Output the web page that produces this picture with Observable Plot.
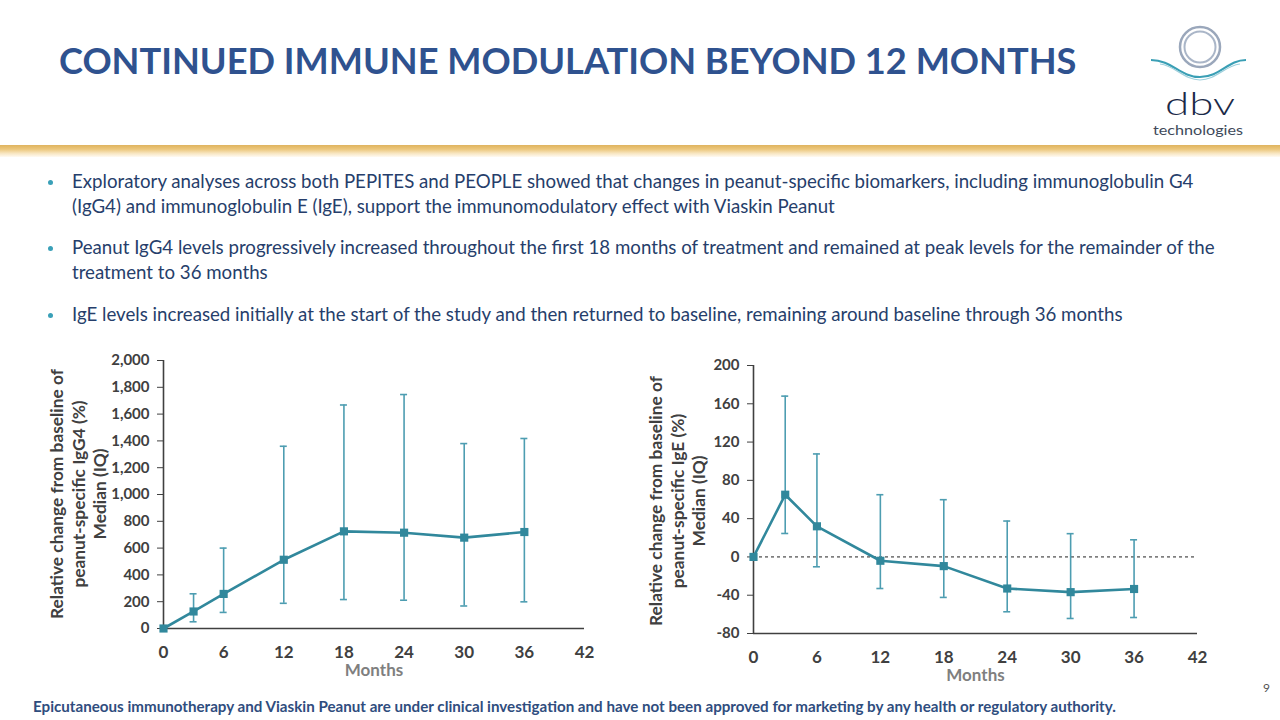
<!DOCTYPE html>
<html><head><meta charset="utf-8">
<script src="https://cdn.jsdelivr.net/npm/d3@7"></script>
<script src="https://cdn.jsdelivr.net/npm/@observablehq/plot@0.6"></script>
<style>
html,body{margin:0;padding:0}
body{width:1280px;height:720px;overflow:hidden;background:#fff;font-family:Lato,"Open Sans",sans-serif;position:relative}
.abs{position:absolute;white-space:nowrap}
#title{left:59px;top:36px;font-weight:700;font-size:35px;line-height:48px;color:#2f528f}
#band{left:0;top:145px;width:1280px;height:12px;background:linear-gradient(#dfb35e,#ecc77c 35%,#f8e6c2 70%,#fffaf2)}
.bl{left:72px;font-size:20px;color:#263e6b;line-height:25px}
.dot{position:absolute;width:5px;height:5px;border-radius:50%;background:#3aa0b8}
.ytitle{position:absolute;font-weight:700;font-size:17px;line-height:21.5px;color:#404040;text-align:center;white-space:nowrap;transform:translate(-50%,-50%) rotate(-90deg)}
#footer{left:33px;top:696px;font-weight:700;font-size:16px;line-height:20px;color:#2f4d7e}
#page{left:1263px;top:680px;font-size:12px;color:#555}
.chart{position:absolute}
.chart svg{overflow:visible}
</style></head>
<body>
<div id="title" class="abs">CONTINUED IMMUNE MODULATION BEYOND 12 MONTHS</div>
<svg class="abs" style="left:1140px;top:15px" width="120" height="125" viewBox="1140 15 120 125">
  <circle cx="1200" cy="47" r="20" fill="none" stroke="#9aa7bb" stroke-width="2.5"/>
  <circle cx="1200" cy="47" r="15.5" fill="none" stroke="#aab6c8" stroke-width="2"/>
  <path d="M1151,60 C1172,60 1180,77 1200,77 C1220,77 1228,60 1246,60" fill="none" stroke="#3a9fb5" stroke-width="2.2"/>
  <path d="M1160,64 C1176,66 1184,80 1200,80 C1216,80 1224,66 1240,64" fill="none" stroke="#9fd0dc" stroke-width="1.2"/>
  <text x="1200" y="115" text-anchor="middle" font-family="Lato" font-weight="300" font-size="31" fill="#1b2a48" textLength="70" lengthAdjust="spacingAndGlyphs">dbv</text>
  <text x="1198" y="135" text-anchor="middle" font-family="Lato" font-weight="400" font-size="13.5" fill="#404a5a" textLength="90" lengthAdjust="spacingAndGlyphs">technologies</text>
</svg>
<div id="band" class="abs"></div>

<div class="dot" style="left:48px;top:180px"></div>
<div class="bl abs" id="b1" style="top:169px">Exploratory analyses across both PEPITES and PEOPLE showed that changes in peanut-specific biomarkers, including immunoglobulin G4</div>
<div class="bl abs" style="top:194px">(IgG4) and immunoglobulin E (IgE), support the immunomodulatory effect with Viaskin Peanut</div>
<div class="dot" style="left:48px;top:246px"></div>
<div class="bl abs" style="top:235px">Peanut IgG4 levels progressively increased throughout the first 18 months of treatment and remained at peak levels for the remainder of the</div>
<div class="bl abs" style="top:260px">treatment to 36 months</div>
<div class="dot" style="left:48px;top:313px"></div>
<div class="bl abs" style="top:302px">IgE levels increased initially at the start of the study and then returned to baseline, remaining around baseline through 36 months</div>

<div id="chartL" class="chart" style="left:0px;top:340px"></div>
<div id="chartR" class="chart" style="left:620px;top:345px"></div>
<div class="ytitle" id="ytL" style="left:78px;top:494px">Relative change from baseline of<br>peanut-specific IgG4 (%)<br>Median (IQ)</div>
<div class="ytitle" id="ytR" style="left:677px;top:501px">Relative change from baseline of<br>peanut-specific IgE (%)<br>Median (IQ)</div>

<div id="footer" class="abs">Epicutaneous immunotherapy and Viaskin Peanut are under clinical investigation and have not been approved for marketing by any health or regulatory authority.</div>
<div id="page" class="abs">9</div>

<script>
// ---- data ----
const months = [0, 3, 6, 12, 18, 24, 30, 36];
const monthTicks = [0, 6, 12, 18, 24, 30, 36, 42];

const igg4Median = [0, 127, 258, 513, 725, 715, 678, 720];
const igg4Q1     = [null, 50, 120, 188, 216, 211, 168, 199];
const igg4Q3     = [null, 259, 600, 1360, 1668, 1746, 1380, 1418];
const igg4Ticks  = [0, 200, 400, 600, 800, 1000, 1200, 1400, 1600, 1800, 2000];

const igeMedian = [0, 65, 32, -4, -9.6, -33, -36.8, -33.5];
const igeQ1     = [null, 24.5, -10.3, -33, -42.3, -57.3, -64.3, -63.3];
const igeQ3     = [null, 168, 107.6, 65, 59.8, 37.5, 24.3, 17.9];
const igeTicks  = [-80, -40, 0, 40, 80, 120, 160, 200];

const lineColor = "#31889c";
const errColor = "#4d9db1";
const axisColor = "#404040";
const fmt = d => d.toLocaleString("en-US");

function rows(med, q1, q3) {
  return months.map((m, i) => ({month: m, median: med[i], q1: q1[i], q3: q3[i]}));
}

function chart({data, yDomain, yTicks, width, marginLeft, dashedZero}) {
  const marks = [
    Plot.axisX({ticks: monthTicks, tickSize: 0, tickPadding: 17, fontSize: 17, fontWeight: 700, label: null, fill: axisColor}),
    Plot.axisY({ticks: yTicks, tickSize: 6, tickPadding: 8, fontSize: 15, fontWeight: 700, tickFormat: fmt, label: null, stroke: axisColor, fill: axisColor}),
    Plot.ruleX([0], {stroke: axisColor, strokeWidth: 1.6}),
    Plot.ruleY([yDomain[0]], {stroke: axisColor, strokeWidth: 1.6}),
  ];
  if (dashedZero) marks.push(Plot.ruleY([0], {stroke: "#222", strokeWidth: 1, strokeDasharray: "3,3"}));
  marks.push(
    Plot.ruleX(data, {x: "month", y1: "q1", y2: "q3", stroke: errColor, strokeWidth: 1.6}),
    Plot.ruleY(data, {y: "q1", x1: "month", x2: "month", insetLeft: -3.5, insetRight: -3.5, stroke: errColor, strokeWidth: 1.6}),
    Plot.ruleY(data, {y: "q3", x1: "month", x2: "month", insetLeft: -3.5, insetRight: -3.5, stroke: errColor, strokeWidth: 1.6}),
    Plot.line(data, {x: "month", y: "median", stroke: lineColor, strokeWidth: 2.6}),
    Plot.dot(data, {x: "month", y: "median", symbol: "square", r: 4.6, fill: lineColor, stroke: "none"}),
    Plot.text(["Months"], {frameAnchor: "bottom", lineAnchor: "middle", dy: 42, fontSize: 17, fontWeight: 700, fill: "#7f7f7f"})
  );
  return Plot.plot({
    width, height: 348, marginLeft, marginRight: 30, marginTop: 20, marginBottom: 60,
    style: {fontFamily: "Lato, sans-serif", background: "transparent", color: axisColor, overflow: "visible"},
    x: {domain: [0, 42]},
    y: {domain: yDomain},
    marks
  });
}

document.getElementById("chartL").append(chart({
  data: rows(igg4Median, igg4Q1, igg4Q3), yDomain: [0, 2000], yTicks: igg4Ticks,
  width: 163 + 421 + 30, marginLeft: 163, dashedZero: false
}));
document.getElementById("chartR").append(chart({
  data: rows(igeMedian, igeQ1, igeQ3), yDomain: [-80, 200], yTicks: igeTicks,
  width: 133 + 444 + 30, marginLeft: 133, dashedZero: true
}));

// fit text widths to the reference
function fit(el, target) {
  const fs = parseFloat(getComputedStyle(el).fontSize);
  const w = el.getBoundingClientRect().width;
  const nfs = fs * target / w;
  el.style.fontSize = nfs + "px";
  return nfs;
}
fit(document.getElementById("title"), 1018);
const bfs = fit(document.getElementById("b1"), 1122);
document.querySelectorAll(".bl").forEach(e => e.style.fontSize = bfs + "px");
fit(document.getElementById("footer"), 1084);
for (const id of ["ytL", "ytR"]) {
  const el = document.getElementById(id);
  const span = document.createElement("span");
  span.style.cssText = "position:absolute;visibility:hidden;white-space:nowrap;font-weight:700;font-size:17px;font-family:Lato";
  span.textContent = "Relative change from baseline of";
  document.body.append(span);
  const w = span.getBoundingClientRect().width;
  span.remove();
  el.style.fontSize = (17 * 250 / w) + "px";
}
</script>
</body></html>
